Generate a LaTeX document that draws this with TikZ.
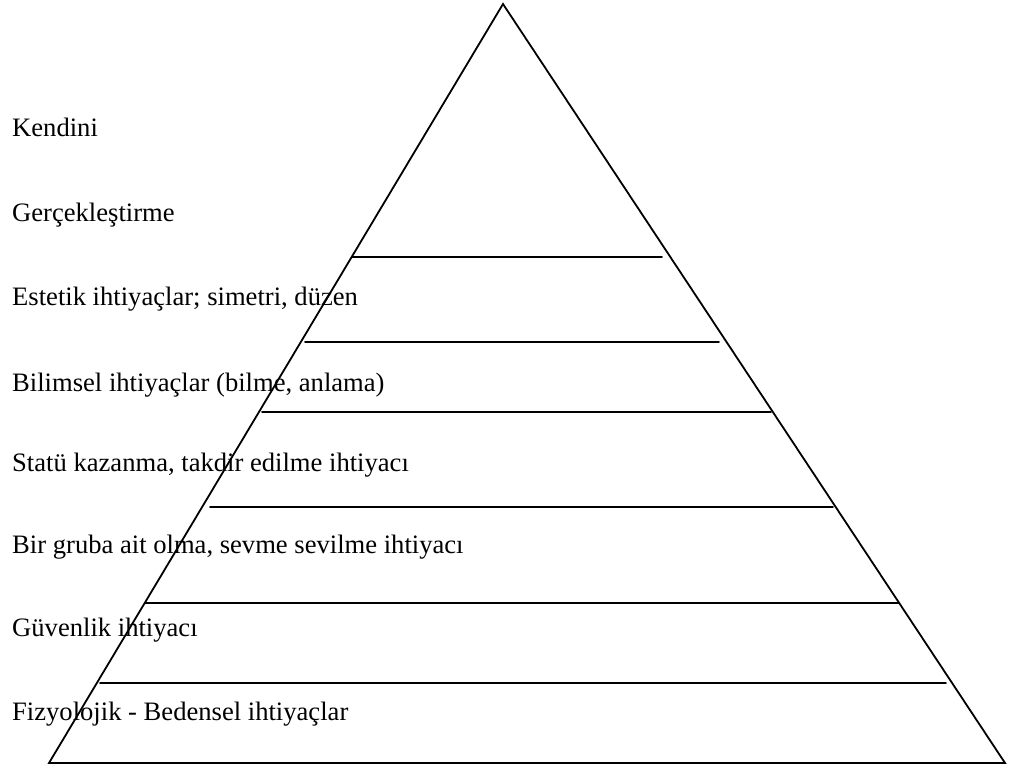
\documentclass[tikz,border=0pt]{standalone}
\usepackage{fontspec}
\setmainfont{Liberation Serif}
\begin{document}
\begin{tikzpicture}[x=1pt,y=-1pt,
  edge/.style={line width=1.8pt,line cap=round,line join=miter},
  lbl/.style={anchor=base west,inner sep=0pt,font=\fontsize{26.6}{30}\selectfont}]
\useasboundingbox (0,0) rectangle (1009,765);
% triangle
\coordinate (apex) at (503,4);
\coordinate (bl) at (49,763);
\coordinate (br) at (1005,763);
\draw[edge] (bl) -- (apex) -- (br) -- cycle;
% level lines
\draw[edge] (352,257) -- (662,257);
\draw[edge] (305,342) -- (719,342);
\draw[edge] (262,412) -- (771,412);
\draw[edge] (210,507) -- (833,507);
\draw[edge] (145,603) -- (899,603);
\draw[edge] (100,683) -- (946,683);
% labels
\node[lbl] (t1) at (12,137) {Kendini};
\node[lbl] (t2) at (12,221) {Gerçekleştirme};
\node[lbl] (t3) at (12,305) {Estetik ihtiyaçlar; simetri, düzen};
\node[lbl] (t4) at (12,391) {Bilimsel ihtiyaçlar (bilme, anlama)};
\node[lbl] (t5) at (12,471) {Statü kazanma, takdir edilme ihtiyacı};
\node[lbl] (t6) at (12,553) {Bir gruba ait olma, sevme sevilme ihtiyacı};
\node[lbl] (t7) at (12,636) {Güvenlik ihtiyacı};
\node[lbl] (t8) at (12,720) {Fizyolojik - Bedensel ihtiyaçlar};
\end{tikzpicture}
\end{document}
